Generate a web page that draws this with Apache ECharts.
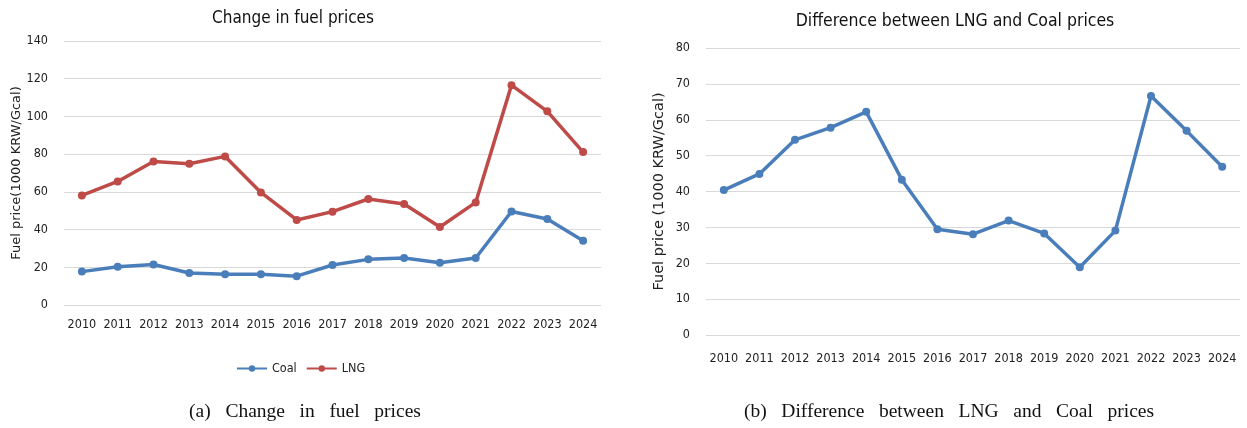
<!DOCTYPE html>
<html>
<head>
<meta charset="utf-8">
<script src="https://cdn.jsdelivr.net/npm/echarts@6/dist/echarts.min.js"></script>
<style>
  html, body { margin: 0; padding: 0; background: #fff; }
  #chart { width: 1247px; height: 428px; }
</style>
</head>
<body>
<div id="chart"></div>
<script>
// Years on the category axis
const years = ['2010','2011','2012','2013','2014','2015','2016','2017','2018','2019','2020','2021','2022','2023','2024'];

// Fuel prices, 1000 KRW/Gcal
const coalPrice = [17.7, 20.3, 21.5, 17.0, 16.3, 16.3, 15.3, 21.2, 24.2, 24.9, 22.4, 24.9, 49.6, 45.6, 34.1];
const lngPrice  = [58.1, 65.5, 76.1, 74.9, 78.8, 59.7, 45.1, 49.5, 56.2, 53.6, 41.4, 54.4, 116.6, 102.7, 81.1];

// LNG minus coal, 1000 KRW/Gcal
const priceGap  = [40.4, 44.9, 54.4, 57.8, 62.2, 43.3, 29.5, 28.1, 31.9, 28.3, 18.9, 29.1, 66.6, 56.9, 46.9];

const titles   = ['Change in fuel prices', 'Difference between LNG and Coal prices'];
const captions = ['(a)   Change   in   fuel   prices', '(b)   Difference   between   LNG   and   Coal   prices'];
const yName    = ['Fuel price(1000 KRW/Gcal)', 'Fuel price (1000 KRW/Gcal)'];

const BLUE = '#4A7EBB';
const RED = '#BE4B48';
const narrow = '"Liberation Sans Narrow", "DejaVu Sans Condensed", "Roboto", sans-serif';
const grey = '#D9D9D9';

function xAxisFor(idx, margin) {
  return {
    type: 'category', gridIndex: idx, data: years, boundaryGap: true,
    axisLine: { show: false }, axisTick: { show: false },
    axisLabel: { color: '#222', fontFamily: narrow, fontSize: 12.5, margin: margin, interval: 0 }
  };
}
function yAxisFor(idx, max, interval, gap, nameSize) {
  return {
    type: 'value', gridIndex: idx, min: 0, max: max, interval: interval,
    name: yName[idx], nameLocation: 'middle', nameGap: gap, nameRotate: 90,
    nameTextStyle: { fontFamily: '"DejaVu Sans", sans-serif', fontSize: nameSize, color: '#222' },
    axisLine: { show: false }, axisTick: { show: false },
    axisLabel: { color: '#222', fontFamily: narrow, fontSize: 12.5, margin: 16 },
    splitLine: { lineStyle: { color: grey, width: 1 } }
  };
}
function lineSeries(name, data, color, idx) {
  return {
    name: name, type: 'line', xAxisIndex: idx, yAxisIndex: idx, data: data,
    symbol: 'circle', symbolSize: 8,
    lineStyle: { color: color, width: 3.5 },
    itemStyle: { color: color },
    emphasis: { disabled: true }
  };
}

const chart = echarts.init(document.getElementById('chart'), null, { renderer: 'canvas' });
chart.setOption({
  animation: false,
  backgroundColor: '#fff',
  title: [
    { text: titles[0], left: 288, top: 5, textAlign: 'center',
      textStyle: { fontFamily: narrow, fontSize: 17, fontWeight: 'normal', color: '#111' } },
    { text: titles[1], left: 950, top: 7, textAlign: 'center',
      textStyle: { fontFamily: narrow, fontSize: 17.5, fontWeight: 'normal', color: '#111' } }
  ],
  legend: {
    data: ['Coal', 'LNG'], left: 231, top: 357,
    itemWidth: 30, itemHeight: 8, itemGap: 9,
    textStyle: { fontFamily: narrow, fontSize: 12.5, color: '#222' }
  },
  grid: [
    { left: 64, top: 41, width: 537, height: 264 },
    { left: 706, top: 48, width: 534, height: 287 }
  ],
  xAxis: [xAxisFor(0, 13), xAxisFor(1, 17)],
  yAxis: [yAxisFor(0, 140, 20, 41, 13), yAxisFor(1, 80, 10, 39, 14.5)],
  series: [
    lineSeries('Coal', coalPrice, BLUE, 0),
    lineSeries('LNG', lngPrice, RED, 0),
    lineSeries('Gap', priceGap, BLUE, 1)
  ],
  graphic: [
    { type: 'text', x: 305, y: 412,
      style: { text: captions[0], font: '19.5px "Liberation Serif", serif', fill: '#111',
               align: 'center', verticalAlign: 'middle' } },
    { type: 'text', x: 949, y: 412,
      style: { text: captions[1], font: '19.5px "Liberation Serif", serif', fill: '#111',
               align: 'center', verticalAlign: 'middle' } }
  ]
});
</script>
</body>
</html>
